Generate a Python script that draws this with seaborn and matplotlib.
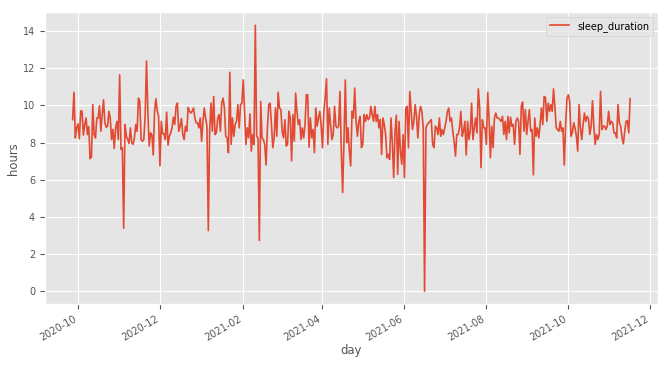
import seaborn as sns
import matplotlib.pyplot as plt
import matplotlib.dates as mdates
import pandas as pd
import numpy as np

# nightly sleep (hours), one value per day from 2020-09-27
start_day = "2020-09-27"

sleep_fall_2020 = [9.23, 10.71, 8.25, 8.79, 9.0, 8.2, 9.71, 9.68, 8.4, 8.97,
                   9.32, 8.43, 8.86, 7.13, 7.22, 10.04, 8.43, 8.25, 9.32, 9.32,
                   9.98, 8.61, 9.5, 10.3, 9.06, 8.82, 8.88, 9.68, 9.32, 8.16,
                   8.7, 7.68, 8.79, 9.14, 8.16, 11.64, 7.63, 7.72, 3.39, 8.97,
                   8.34, 8.16, 7.95, 8.79, 7.99, 7.9, 8.25, 8.97, 8.61, 10.39,
                   10.21, 8.16, 8.07, 8.16, 9.5, 12.39, 9.68, 7.81, 8.52, 8.43,
                   7.33, 9.68, 10.36, 9.68, 9.41, 6.74, 9.14, 8.47, 8.47, 8.16,
                   9.63, 7.86, 8.34]

sleep_winter = [8.52, 8.79, 9.36, 8.97, 9.95, 10.12, 8.61, 8.88, 9.29, 8.43,
                8.16, 8.88, 8.61, 9.89, 9.68, 9.59, 9.68, 9.86, 9.32, 9.06,
                9.06, 8.79, 9.32, 8.07, 9.14, 9.86, 9.32, 8.88, 3.26, 8.61,
                10.12, 8.61, 10.48, 8.43, 8.52, 9.32, 9.5, 8.61, 10.12, 10.39,
                9.86, 8.34, 8.25, 7.45, 11.78, 7.9, 9.32, 8.34, 8.97, 9.14,
                10.04, 8.79, 10.04, 10.12, 11.37, 9.68, 7.9, 8.79, 8.25, 9.54,
                7.54, 8.43, 7.9, 14.31, 8.34, 8.25, 2.73, 10.21, 8.25, 8.16,
                7.9, 6.79, 8.79, 10.04, 10.12, 8.97, 7.72, 8.25, 9.86, 8.34,
                10.71, 9.86, 9.77, 8.61, 8.25, 9.23, 7.81, 7.9, 9.68, 9.32]

sleep_spring = [7.01, 9.5, 8.07, 10.66, 9.68, 8.97, 9.23, 8.16, 8.79, 8.25,
                8.97, 10.57, 10.57, 7.75, 9.32, 8.25, 8.7, 7.45, 9.86, 8.88,
                9.32, 9.68, 8.88, 7.72, 9.68, 10.39, 11.43, 7.9, 9.86, 8.97,
                8.16, 8.43, 9.95, 8.88, 8.79, 8.88, 10.75, 7.54, 5.31, 8.07,
                11.37, 7.99, 8.79, 7.54, 6.74, 9.68, 9.32, 10.93, 9.14, 8.34,
                9.14, 9.41, 7.72, 7.9, 9.5, 9.14, 9.5, 9.23, 9.32, 9.95,
                9.5, 9.14, 9.95, 9.14, 9.5, 8.79, 9.23, 7.36, 9.32, 8.97,
                8.43, 7.18, 7.36, 7.09, 9.32, 7.99, 6.11, 8.61, 9.47, 6.29,
                9.14, 7.54, 6.83, 8.43, 6.11, 9.86, 9.95, 7.72, 10.75]

sleep_summer = [9.68, 8.7, 9.14, 10.04, 9.41, 8.25, 9.5, 9.95, 9.68, 8.79,
                0.0, 8.79, 8.97, 9.06, 9.14, 9.23, 7.9, 7.72, 8.88, 8.79,
                8.43, 9.32, 8.34, 8.7, 8.43, 8.79, 9.14, 9.68, 9.86, 9.14,
                9.32, 8.61, 8.07, 7.27, 8.43, 8.43, 8.79, 9.68, 8.34, 8.61,
                9.14, 7.33, 9.14, 8.16, 8.61, 10.12, 8.16, 8.79, 9.32, 8.52,
                10.89, 9.86, 6.65, 9.23, 8.79, 8.79, 7.9, 10.7, 9.32, 7.18,
                8.88, 7.72, 9.32, 9.59, 9.32, 9.32, 9.23, 9.14, 9.41, 8.43,
                9.14, 8.16, 9.41, 8.52, 9.36, 8.88, 8.97, 7.9, 9.14, 9.32,
                9.14, 7.36, 9.95, 10.18, 8.61, 9.77, 8.43, 9.14, 9.77, 8.61]

sleep_fall_2021 = [8.7, 6.26, 9.32, 8.34, 8.79, 8.25, 8.97, 9.86, 8.97, 10.48,
                   10.43, 9.14, 10.12, 9.68, 10.04, 9.68, 10.89, 9.95, 8.79, 8.7,
                   8.61, 9.14, 8.61, 8.79, 6.79, 8.97, 10.39, 10.57, 10.21, 8.34,
                   8.52, 9.06, 8.79, 8.34, 7.54, 10.04, 8.79, 8.16, 8.97, 9.59,
                   9.14, 9.41, 9.29, 8.43, 8.88, 10.25, 8.88, 7.9, 8.43, 8.16,
                   8.43, 10.75, 8.7, 8.88, 8.88, 8.7, 8.88, 9.68, 8.97, 9.14,
                   9.06, 8.52, 8.52, 8.25, 10.04, 9.06, 8.88, 8.25, 7.93, 8.61,
                   9.14, 9.18, 8.52, 10.36]

hours = sleep_fall_2020 + sleep_winter + sleep_spring + sleep_summer + sleep_fall_2021
df = pd.DataFrame({"day": pd.date_range(start_day, periods=len(hours), freq="D"),
                   "sleep_duration": hours})

plt.style.use("ggplot")
fig, ax = plt.subplots(figsize=(6.68, 3.65), dpi=100)
sns.lineplot(data=df, x="day", y="sleep_duration", ax=ax, color="#E24A33",
             linewidth=1.2, label="sleep_duration")
ax.xaxis.set_major_locator(mdates.MonthLocator(bymonth=[2, 4, 6, 8, 10, 12]))
ax.xaxis.set_major_formatter(mdates.DateFormatter("%Y-%m"))
ax.set_xlabel("day", fontsize=8.4, labelpad=1)
ax.set_ylabel("hours", fontsize=8.4, labelpad=2)
ax.set_yticks(np.arange(0, 15, 2))
ax.tick_params(labelsize=7)
ax.legend(loc="upper right", fontsize=7)
fig.autofmt_xdate()
fig.subplots_adjust(left=0.067, right=0.985, top=0.967, bottom=0.166)
fig.savefig("out.png", dpi=100)
